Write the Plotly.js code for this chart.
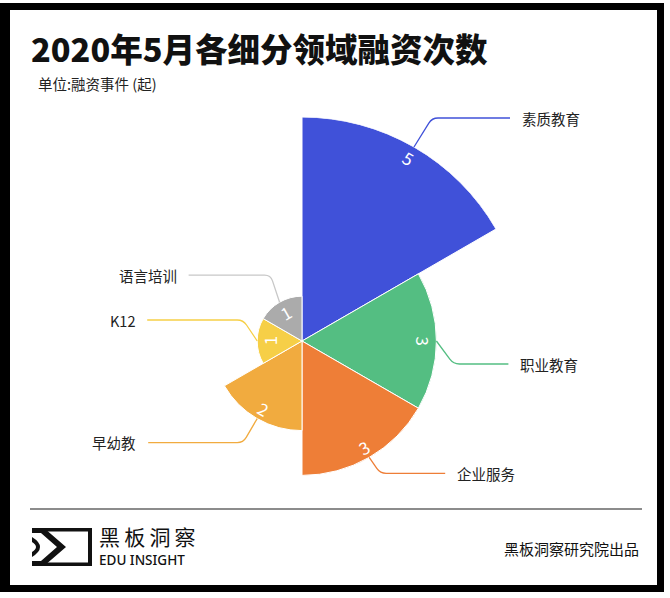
<!DOCTYPE html>
<html>
<head>
<meta charset="utf-8">
<script src="https://cdn.plot.ly/plotly-3.0.1.min.js"></script>
<style>html,body{margin:0;padding:0;background:#fff;}#chart{width:670px;height:598px;}</style>
</head>
<body>
<div id="chart"></div>
<script>
// ---- data ----
const categories = ['素质教育', '职业教育', '企业服务', '早幼教', 'K12', '语言培训'];
const counts = [5, 3, 3, 2, 1, 1];
const colors = ['#4051D9', '#54BE82', '#EE7E37', '#F1AB3F', '#F6CF47', '#ABABAB'];
const lineColors = ['#4051D9', '#54BE82', '#EE7E37', '#F1AB3F', '#F6CF47', '#C8C8C8'];
const titleText = '2020年5月各细分领域融资次数';
const unitText = '单位:融资事件 (起)';
const brandCN = '黑板洞察';
const brandEN = 'EDU INSIGHT';
const sourceText = '黑板洞察研究院出品';

// ---- layout constants ----
const W = 670, H = 598;
const cx = 302, cy = 341, R = 224, rMax = 5;
const FONT = '"Noto Sans CJK SC", "Noto Sans", sans-serif';
// leader-line geometry per category: elbow offset from slice edge, horizontal length
const leader = [
  {dx: 18, dy: -29, len: 78, side: 1},
  {dx: 17, dy: 23, len: 55, side: 1},
  {dx: 11, dy: 16, len: 65, side: 1},
  {dx: -14, dy: 24, len: 95, side: -1},
  {dx: -14, dy: -21, len: 96, side: -1},
  {dx: -9, dy: -27, len: 82, side: -1}
];

const n = categories.length;
const step = 360 / n;
const thetas = categories.map((c, i) => (i + 0.5) * step);

function fx(x) { return x / W; }
function fy(y) { return 1 - y / H; }
function polarPx(v, th, off) {
  const r = v / rMax * R + (off || 0);
  const a = th * Math.PI / 180;
  return [cx + r * Math.sin(a), cy - r * Math.cos(a)];
}

const trace = {
  type: 'barpolar',
  r: counts,
  theta: thetas,
  width: counts.map(() => step),
  marker: {color: colors, line: {color: '#ffffff', width: 1}},
  hoverinfo: 'none',
  showlegend: false
};

const shapes = [];
const annotations = [];

// frame
shapes.push({type: 'rect', xref: 'paper', yref: 'paper', x0: fx(0), x1: fx(664), y0: fy(592), y1: fy(3),
  fillcolor: '#000', line: {width: 0}, layer: 'below'});
shapes.push({type: 'rect', xref: 'paper', yref: 'paper', x0: fx(10), x1: fx(657), y0: fy(585), y1: fy(10),
  fillcolor: '#fff', line: {width: 0}, layer: 'below'});
// separator
shapes.push({type: 'line', xref: 'paper', yref: 'paper', x0: fx(30), x1: fx(642), y0: fy(509), y1: fy(509),
  line: {color: '#666', width: 1.5}});

// logo
function P(pts, close) {
  return pts.map((p, i) => (i ? 'L' : 'M') + fx(p[0]).toFixed(5) + ',' + fy(p[1]).toFixed(5)).join(' ') + (close ? ' Z' : '');
}
shapes.push({type: 'path', xref: 'paper', yref: 'paper',
  path: P([[44, 528], [92, 528], [92, 566], [44, 566], [44, 562.5], [88, 562.5], [88, 531.5], [44, 531.5]], true),
  fillcolor: '#111', line: {width: 0}});
shapes.push({type: 'path', xref: 'paper', yref: 'paper',
  path: P([[32, 528], [44, 528], [66, 547], [44, 566], [32, 566], [32, 561], [41, 561], [57, 547], [41, 533], [32, 533]], true),
  fillcolor: '#111', line: {width: 0}});
shapes.push({type: 'path', xref: 'paper', yref: 'paper',
  path: 'M' + fx(32) + ',' + fy(537) + ' Q' + fx(48) + ',' + fy(547) + ' ' + fx(32) + ',' + fy(557) +
        ' L' + fx(32) + ',' + fy(552) + ' Q' + fx(40) + ',' + fy(547) + ' ' + fx(32) + ',' + fy(542) + ' Z',
  fillcolor: '#111', line: {width: 0}});

// value labels + leader lines + category labels
categories.forEach((c, i) => {
  const th = thetas[i];
  const v = counts[i];
  const pos = polarPx(v, th, -12);
  let rot = th;
  if (th > 90 && th < 270) rot = th - 180;
  if (rot > 180) rot -= 360;
  annotations.push({xref: 'paper', yref: 'paper', x: fx(pos[0]), y: fy(pos[1]), text: String(v),
    showarrow: false, xanchor: 'center', yanchor: 'middle', textangle: rot,
    font: {family: FONT, size: 17, color: '#ffffff'}});

  const L = leader[i];
  const p0 = polarPx(v, th, 0);
  const p1 = [p0[0] + L.dx, p0[1] + L.dy];
  const p2 = [p1[0] + L.side * L.len, p1[1]];
  const d01 = Math.hypot(p0[0] - p1[0], p0[1] - p1[1]);
  const k = 6;
  const a = [p1[0] + (p0[0] - p1[0]) * k / d01, p1[1] + (p0[1] - p1[1]) * k / d01];
  const b = [p1[0] + L.side * k, p1[1]];
  const path = 'M' + fx(p0[0]) + ',' + fy(p0[1]) + ' L' + fx(a[0]) + ',' + fy(a[1]) +
    ' Q' + fx(p1[0]) + ',' + fy(p1[1]) + ' ' + fx(b[0]) + ',' + fy(b[1]) +
    ' L' + fx(p2[0]) + ',' + fy(p2[1]);
  shapes.push({type: 'path', xref: 'paper', yref: 'paper', path: path, line: {color: lineColors[i], width: 1.3}});
  annotations.push({xref: 'paper', yref: 'paper', x: fx(p2[0] + L.side * 10), y: fy(p1[1]), text: c,
    showarrow: false, xanchor: L.side > 0 ? 'left' : 'right', yanchor: 'middle',
    font: {family: FONT, size: 14.5, color: '#222'}});
});

// texts
annotations.push({xref: 'paper', yref: 'paper', x: fx(29), y: fy(48), text: titleText, showarrow: false,
  xanchor: 'left', yanchor: 'middle', font: {family: FONT, size: 32.5, color: '#111', weight: 900}});
annotations.push({xref: 'paper', yref: 'paper', x: fx(36), y: fy(83), text: unitText, showarrow: false,
  xanchor: 'left', yanchor: 'middle', font: {family: FONT, size: 14.5, color: '#222'}});
annotations.push({xref: 'paper', yref: 'paper', x: fx(97), y: fy(536), text: brandCN.split('').join('\u2009'), showarrow: false,
  xanchor: 'left', yanchor: 'middle', font: {family: FONT, size: 21, color: '#111'}});
annotations.push({xref: 'paper', yref: 'paper', x: fx(97), y: fy(560), text: brandEN, showarrow: false,
  xanchor: 'left', yanchor: 'middle', font: {family: '"Noto Sans", sans-serif', size: 13.5, color: '#111', weight: 500}});
annotations.push({xref: 'paper', yref: 'paper', x: fx(641), y: fy(548), text: sourceText, showarrow: false,
  xanchor: 'right', yanchor: 'middle', font: {family: FONT, size: 15, color: '#111'}});

const layout = {
  width: W, height: H,
  margin: {l: 0, r: 0, t: 0, b: 0, pad: 0},
  paper_bgcolor: '#ffffff',
  showlegend: false,
  polar: {
    domain: {x: [(cx - R) / W, (cx + R) / W], y: [(H - cy - R) / H, (H - cy + R) / H]},
    bgcolor: 'rgba(0,0,0,0)',
    bargap: 0,
    radialaxis: {range: [0, rMax], visible: false, showgrid: false},
    angularaxis: {rotation: 90, direction: 'clockwise', visible: false, showgrid: false}
  },
  shapes: shapes,
  annotations: annotations
};

Plotly.newPlot('chart', [trace], layout, {displayModeBar: false, staticPlot: true});
</script>
</body>
</html>
